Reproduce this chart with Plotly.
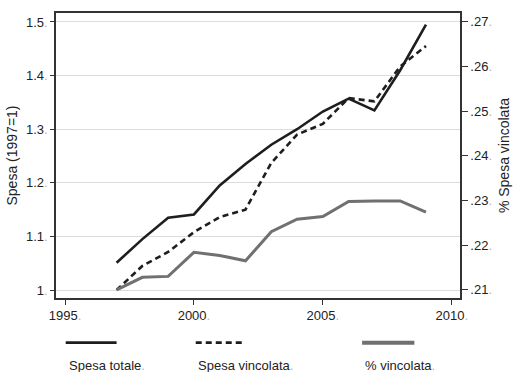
import plotly.graph_objects as go

years = [1997, 1998, 1999, 2000, 2001, 2002, 2003, 2004, 2005, 2006, 2007, 2008, 2009]
spesa_totale = [1.051, 1.095, 1.135, 1.141, 1.195, 1.235, 1.271, 1.300, 1.333, 1.357, 1.335, 1.410, 1.495]
spesa_vincolata = [1.000, 1.045, 1.071, 1.108, 1.136, 1.150, 1.237, 1.290, 1.310, 1.358, 1.352, 1.417, 1.455]
perc_vincolata = [0.2100, 0.2128, 0.2130, 0.2184, 0.2177, 0.2165, 0.2230, 0.2258, 0.2264, 0.2298, 0.2299, 0.2299, 0.2274]

left_ticks = [1.0, 1.1, 1.2, 1.3, 1.4, 1.5]
left_labels = ["1", "1.1", "1.2", "1.3", "1.4", "1.5"]
right_ticks = [0.21, 0.22, 0.23, 0.24, 0.25, 0.26, 0.27]
right_labels = [".21", ".22", ".23", ".24", ".25", ".26", ".27"]
x_ticks = [1995, 2000, 2005, 2010]
x_labels = ["1995", "2000", "2005", "2010"]
legend_names = ["Spesa totale", "Spesa vincolata", "% vincolata"]

DOT = "<span style='color:#b0b0b0'>.</span>"
BLACK = "#1e1e1e"
GRAY = "#707070"
FONT = "Liberation Sans, Arial, sans-serif"

fig = go.Figure()
fig.add_trace(go.Scatter(x=years, y=spesa_totale, mode="lines", name=legend_names[0],
                         line=dict(color=BLACK, width=2.6), showlegend=False))
fig.add_trace(go.Scatter(x=years, y=spesa_vincolata, mode="lines", name=legend_names[1],
                         line=dict(color=BLACK, width=2.6, dash="6px,4px"), showlegend=False))
fig.add_trace(go.Scatter(x=years, y=perc_vincolata, mode="lines", name=legend_names[2],
                         line=dict(color=GRAY, width=3), yaxis="y2", showlegend=False))

axis_common = dict(showline=True, linecolor="#333333", linewidth=1.5, ticks="outside",
                   tickcolor="#333333", zeroline=False,
                   tickfont=dict(family=FONT, size=13, color="#222222"))

fig.update_layout(
    width=521, height=372,
    margin=dict(l=54, r=48, t=11, b=74),
    paper_bgcolor="white", plot_bgcolor="white",
    font=dict(family=FONT, size=13, color="#222222"),
    xaxis=dict(range=[1994.65, 2010.32], tickvals=x_ticks, ticklen=5,
               ticktext=[t + DOT for t in x_labels], showgrid=False,
               mirror=True, **axis_common),
    yaxis=dict(range=[0.9852, 1.5167], tickvals=left_ticks, ticklen=4,
               ticktext=[t + DOT for t in left_labels],
               showgrid=True, gridcolor="#dcdcdc", gridwidth=1,
               title=dict(text="Spesa (1997=1)", font=dict(family=FONT, size=14), standoff=5),
               **axis_common),
    yaxis2=dict(range=[0.20816, 0.2720], tickvals=right_ticks, ticklen=6,
                ticktext=[t + DOT for t in right_labels],
                overlaying="y", side="right", showgrid=False,
                title=dict(text="% Spesa vincolata", font=dict(family=FONT, size=14), standoff=8),
                **axis_common),
)

# legend drawn below the plot: sample line above label
samples = [(0.024, 0.150, BLACK, 2.6, "solid"),
           (0.3459, 0.4676, BLACK, 2.6, "6px,4px"),
           (0.7576, 0.8871, GRAY, 4, "solid")]
text_x = [0.028, 0.3465, 0.7596]
for (x0, x1, c, w, d), tx, name in zip(samples, text_x, legend_names):
    fig.add_shape(type="line", xref="paper", yref="paper", x0=x0, x1=x1, y0=-0.1566, y1=-0.1566,
                  line=dict(color=c, width=w, dash=d))
    fig.add_annotation(xref="paper", yref="paper", x=tx, y=-0.238, xanchor="left", yanchor="middle",
                       text=name + DOT, showarrow=False,
                       font=dict(family=FONT, size=13, color="#222222"))

fig.write_html("out.html")
